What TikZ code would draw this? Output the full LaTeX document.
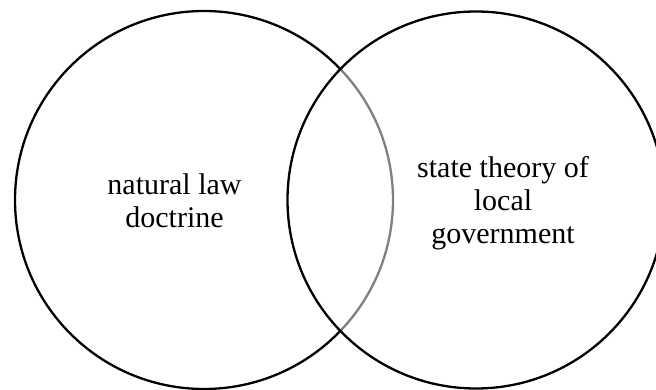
\documentclass[tikz,border=0pt]{standalone}
\usepackage{fontspec}
\setmainfont{Liberation Serif}
\begin{document}
\begin{tikzpicture}[x=1pt,y=1pt,
  ring/.style={draw=black,line width=2.3pt},
  lbl/.style={align=center,font=\fontsize{30}{33}\selectfont,inner sep=0pt}]
\useasboundingbox (0,0) rectangle (656,389);
\clip (0,0) rectangle (656,389);
\node[ring,circle,minimum size=378pt,inner sep=0pt] (A) at (204,189) {};
\node[ring,circle,minimum size=377pt,inner sep=0pt,fill=white,fill opacity=0.5] (B) at (476,189) {};
\node[lbl] (ta) at (174.5,188) {natural law\\doctrine};
\node[lbl] (tb) at (503,186) {state theory of\\local\\government};
\end{tikzpicture}
\end{document}
